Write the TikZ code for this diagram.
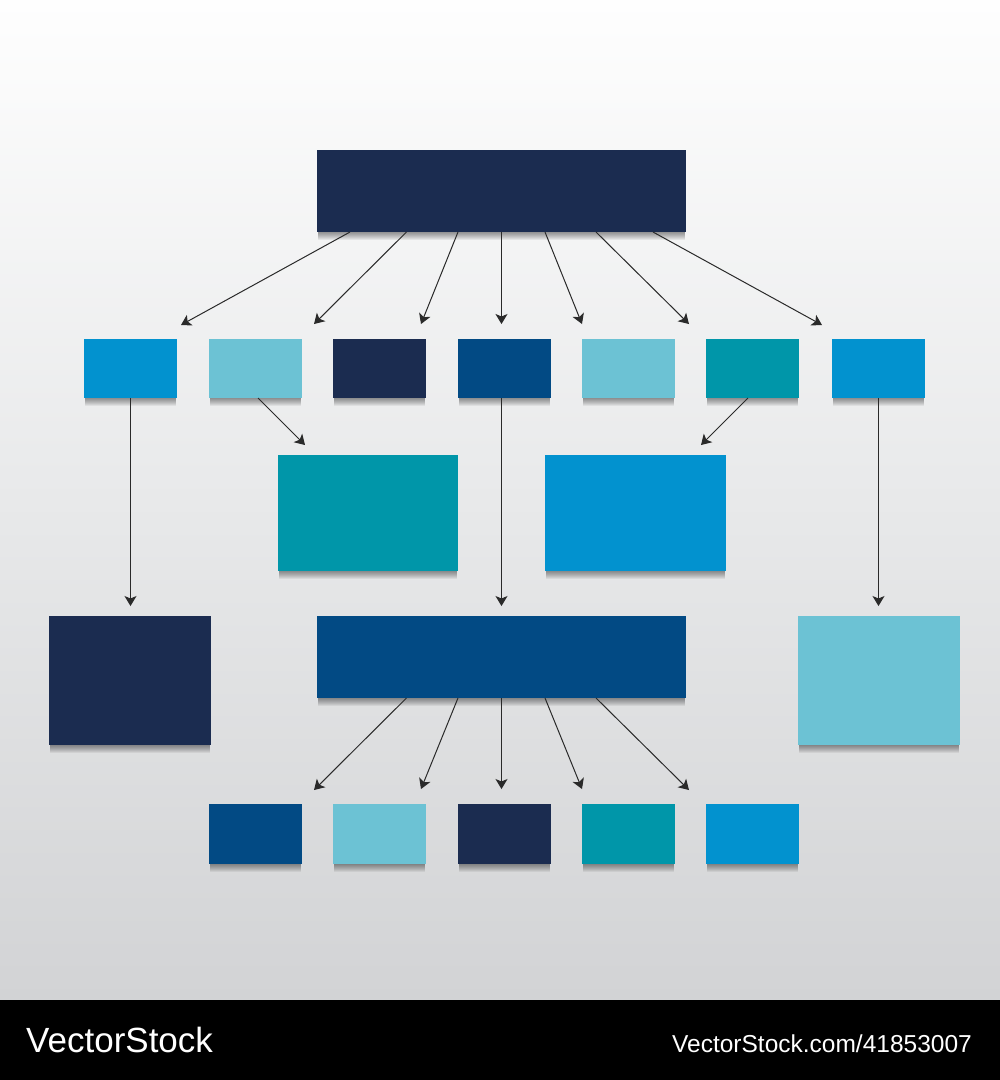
\documentclass[tikz,border=0pt]{standalone}
\usepackage{fontspec}
\setmainfont{Liberation Sans}
\usetikzlibrary{arrows.meta}
\definecolor{cnavy}{HTML}{1B2C50}
\definecolor{cdblue}{HTML}{024A84}
\definecolor{cblue}{HTML}{0292CF}
\definecolor{clight}{HTML}{6CC2D4}
\definecolor{cteal}{HTML}{0096A9}
\definecolor{cline}{HTML}{2A2A2A}
\definecolor{bgtop}{HTML}{FEFEFE}
\definecolor{bgmid}{HTML}{E8E9EA}
\definecolor{bgbot}{HTML}{D2D3D5}
\newcommand\myshadow[3]{%
  \foreach \k in {1,...,8}{\fill[black,opacity=0.06] (#1+1,#3-1) rectangle (#2-1,#3+\k);}}
\tikzset{
  blk/.style={inner sep=0pt, outer sep=0pt, anchor=north west, draw=none},
  conn/.style={draw=cline, line width=1pt, -{Stealth[length=10pt,width=12pt,inset=2.5pt]}},
}
\begin{document}
\begin{tikzpicture}[x=1pt,y=-1pt]
\useasboundingbox (0,0) rectangle (1000,1080);
\shade[top color=bgtop, bottom color=bgbot, middle color=bgmid] (0,0) rectangle (1000,1000);
\fill[black] (0,1000) rectangle (1000,1080);
% shadows
\myshadow{317}{686}{232}
\foreach \a/\b in {84/177,209/302,333/426,458/551,582/675,706/799,832/925}{\myshadow{\a}{\b}{398}}
\myshadow{278}{458}{571}
\myshadow{545}{726}{571}
\myshadow{49}{211}{745}
\myshadow{317}{686}{698}
\myshadow{798}{960}{745}
\foreach \a/\b in {209/302,333/426,458/551,582/675,706/799}{\myshadow{\a}{\b}{864}}
% boxes
\node[blk, fill=cnavy, minimum width=369pt, minimum height=82pt] (top) at (317,150) {};
\node[blk, fill=cblue,  minimum width=93pt, minimum height=59pt] (b1) at (84,339) {};
\node[blk, fill=clight, minimum width=93pt, minimum height=59pt] (b2) at (209,339) {};
\node[blk, fill=cnavy,  minimum width=93pt, minimum height=59pt] (b3) at (333,339) {};
\node[blk, fill=cdblue, minimum width=93pt, minimum height=59pt] (b4) at (458,339) {};
\node[blk, fill=clight, minimum width=93pt, minimum height=59pt] (b5) at (582,339) {};
\node[blk, fill=cteal,  minimum width=93pt, minimum height=59pt] (b6) at (706,339) {};
\node[blk, fill=cblue,  minimum width=93pt, minimum height=59pt] (b7) at (832,339) {};
\node[blk, fill=cteal, minimum width=180pt, minimum height=116pt] (m1) at (278,455) {};
\node[blk, fill=cblue, minimum width=181pt, minimum height=116pt] (m2) at (545,455) {};
\node[blk, fill=cnavy, minimum width=162pt, minimum height=129pt] (l1) at (49,616) {};
\node[blk, fill=cdblue, minimum width=369pt, minimum height=82pt] (l2) at (317,616) {};
\node[blk, fill=clight, minimum width=162pt, minimum height=129pt] (l3) at (798,616) {};
\node[blk, fill=cdblue, minimum width=93pt, minimum height=60pt] (s1) at (209,804) {};
\node[blk, fill=clight, minimum width=93pt, minimum height=60pt] (s2) at (333,804) {};
\node[blk, fill=cnavy,  minimum width=93pt, minimum height=60pt] (s3) at (458,804) {};
\node[blk, fill=cteal,  minimum width=93pt, minimum height=60pt] (s4) at (582,804) {};
\node[blk, fill=cblue,  minimum width=93pt, minimum height=60pt] (s5) at (706,804) {};
% arrow end coordinates
\coordinate (e1) at (181,325);
\coordinate (e2) at (314,324);
\coordinate (e3) at (421,324);
\coordinate (e4) at (501.5,324);
\coordinate (e5) at (582,324);
\coordinate (e6) at (689,324);
\coordinate (e7) at (822,325);
\coordinate (f1) at (305,445);
\coordinate (f2) at (701,445);
\coordinate (g1) at (130.5,606);
\coordinate (g2) at (501.5,606);
\coordinate (g3) at (878.5,606);
\coordinate (h1) at (314,790);
\coordinate (h2) at (421,789);
\coordinate (h3) at (501.5,789);
\coordinate (h4) at (582,789);
\coordinate (h5) at (689,790);
% connectors
\draw[conn] ([xshift=-151.5pt]top.south) -- (e1);
\draw[conn] ([xshift=-95pt]top.south) -- (e2);
\draw[conn] ([xshift=-43.5pt]top.south) -- (e3);
\draw[conn] (top.south) -- (e4);
\draw[conn] ([xshift=43.5pt]top.south) -- (e5);
\draw[conn] ([xshift=94.5pt]top.south) -- (e6);
\draw[conn] ([xshift=151.5pt]top.south) -- (e7);
\draw[conn] (b1.south) -- (g1);
\draw[conn] ([xshift=2.5pt]b2.south) -- (f1);
\draw[conn] ([xshift=-3pt]b4.south) -- (g2);
\draw[conn] ([xshift=-4.5pt]b6.south) -- (f2);
\draw[conn] (b7.south) -- (g3);
\draw[conn] ([xshift=-95pt]l2.south) -- (h1);
\draw[conn] ([xshift=-43.5pt]l2.south) -- (h2);
\draw[conn] (l2.south) -- (h3);
\draw[conn] ([xshift=43.5pt]l2.south) -- (h4);
\draw[conn] ([xshift=94.5pt]l2.south) -- (h5);
% footer
\node[anchor=base west, inner sep=0pt, text=white, font=\fontsize{35}{35}\selectfont] (logo) at (26,1052) {VectorStock};
\node[anchor=base east, inner sep=0pt, text=white, font=\fontsize{24.5}{24.5}\selectfont] (url) at (972,1052) {VectorStock.com/41853007};
\end{tikzpicture}
\end{document}
